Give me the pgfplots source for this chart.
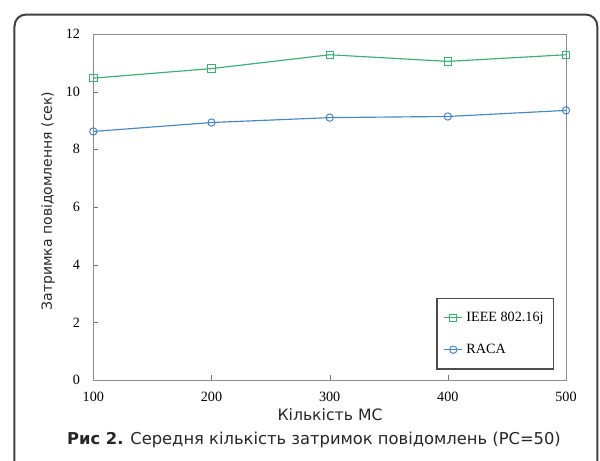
\documentclass[border=0pt]{standalone}
\usepackage{fontspec}
\setmainfont{Liberation Serif}
\newfontfamily\labelfont{DejaVu Sans}
\usepackage{pgfplots}
\pgfplotsset{compat=1.18}
\definecolor{ieee}{RGB}{60,175,115}
\definecolor{raca}{RGB}{75,135,195}
\begin{document}
\begin{tikzpicture}
\path[use as bounding box] (0,0) rectangle (360pt,-276.6pt);
\draw[rounded corners=7pt, line width=1.2pt, black!75] (8.7pt,-8.7pt) rectangle (358.4pt,-300pt);
\begin{axis}[
  at={(56pt,-228pt)}, anchor=south west,
  scale only axis, width=283.6pt, height=207.6pt,
  xmin=100, xmax=500, ymin=0, ymax=12,
  xtick={100,200,...,500}, ytick={0,2,...,12},
  axis line style={black!45},
  tick style={black!55},
  tick align=inside, xtick pos=bottom, ytick pos=left,
  major tick length=3pt,
  ticklabel style={font=\fontsize{8.5}{10}\selectfont},
  yticklabel style={xshift=-4.5pt},
  xticklabel style={yshift=-4pt},
  /pgf/number format/assume math mode=true,
  legend cell align=left,
  legend style={at={(0.975,0.03)}, anchor=south east, draw=black!70, line width=0.8pt,
    inner xsep=4pt, inner ysep=6pt, row sep=8pt, font=\fontsize{8.5}{10}\selectfont},
  legend image code/.code={\draw[mark repeat=2,mark phase=2] plot coordinates {(0pt,0pt)(5.5pt,0pt)(11pt,0pt)};},
]
\addplot[ieee, line width=0.7pt, mark=square, mark size=2.2pt, mark options={line width=0.6pt}] coordinates {
(100,10.47) (200,10.80) (300,11.28) (400,11.05) (500,11.28)};
\addlegendentry{IEEE 802.16j}
\addplot[raca, line width=0.7pt, mark=o, mark size=2.2pt, mark options={line width=0.6pt}] coordinates {
(100,8.62) (200,8.93) (300,9.10) (400,9.14) (500,9.35)};
\addlegendentry{RACA}
\end{axis}
\node[font=\labelfont\fontsize{9.4}{11}\selectfont, text=black!85] at (198pt,-249pt) {Кількість МС};
\node[font=\labelfont\fontsize{8.4}{10}\selectfont, text=black!85, rotate=90] at (28.8pt,-120.6pt) {Затримка повідомлення (сек)};
\node[font=\labelfont\fontsize{9.8}{11}\selectfont, text=black!85] at (188.4pt,-264pt) {\textbf{Рис 2.} Середня кількість затримок повідомлень (РС=50)};
\end{tikzpicture}
\end{document}
